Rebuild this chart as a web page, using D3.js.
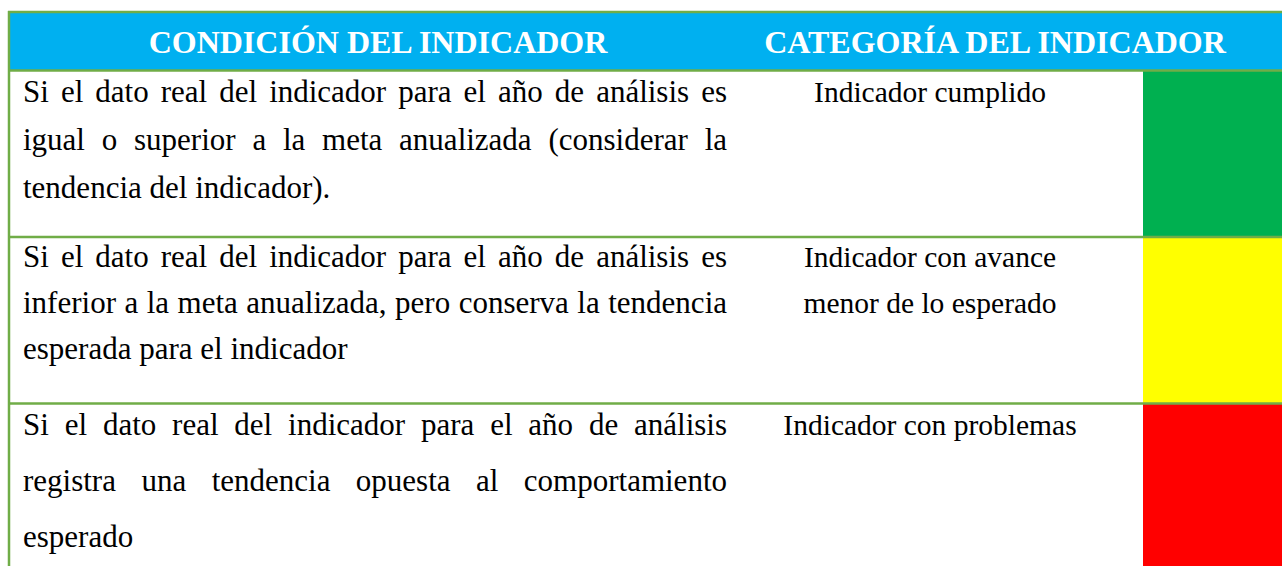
<!DOCTYPE html>
<html>
<head>
<meta charset="utf-8">
<script src="https://cdn.jsdelivr.net/npm/d3@7"></script>
<style>
  html, body { margin: 0; padding: 0; background: #ffffff; }
  svg { display: block; }
</style>
</head>
<body>
<script>
// ---- data ----
const headers = ["CONDICIÓN DEL INDICADOR", "CATEGORÍA DEL INDICADOR"];
const conditionLines = [
  ["Si el dato real del indicador para el año de análisis es",
   "igual o superior a la meta anualizada (considerar la",
   "tendencia del indicador)."],
  ["Si el dato real del indicador para el año de análisis es",
   "inferior a la meta anualizada, pero conserva la tendencia",
   "esperada para el indicador"],
  ["Si el dato real del indicador para el año de análisis",
   "registra una tendencia opuesta al comportamiento",
   "esperado"]
];
const categoryLines = [
  ["Indicador cumplido"],
  ["Indicador con avance", "menor de lo esperado"],
  ["Indicador con problemas"]
];
const categoryColors = ["#00B050", "#FFFF00", "#FF0000"];

// ---- layout ----
const W = 1282, H = 566;
const border = "#70AD47";
const headerFill = "#00B0F0";
const tableLeft = 9, tableTop = 12, headerBottom = 70.5;
const textLeft = 23, textRight = 727;
const catCenter = 930;
const swatchLeft = 1143;
const bodyFont = 31, catFont = 29.5, headFont = 32;
const rowPitch = [48, 46, 56];
const rowFirst = [31, 30, 31];

const svg = d3.select("body").append("svg").attr("width", W).attr("height", H);

const rows = d3.range(conditionLines.length);
const y = d3.scaleBand().domain(rows).range([headerBottom, headerBottom + 3 * 166.5]);
const headX = d3.scaleOrdinal().domain(headers).range([378, 995]);
const fontFam = "'Liberation Serif', 'Times New Roman', serif";
const lineY = (r, i) => y(r) + rowFirst[r] + i * rowPitch[r];

// header
svg.append("rect").attr("x", tableLeft).attr("y", tableTop)
  .attr("width", W - tableLeft).attr("height", headerBottom - tableTop).attr("fill", headerFill);
svg.selectAll("text.head").data(headers).join("text")
  .attr("class", "head")
  .attr("x", d => headX(d)).attr("y", 53)
  .attr("text-anchor", "middle")
  .attr("font-family", fontFam)
  .attr("font-weight", "bold").attr("font-size", headFont)
  .attr("fill", "#ffffff").text(d => d);

// color swatches
svg.selectAll("rect.sw").data(rows).join("rect")
  .attr("class", "sw")
  .attr("x", swatchLeft).attr("y", d => y(d))
  .attr("width", W - swatchLeft).attr("height", y.bandwidth())
  .attr("fill", d => categoryColors[d]);

// condition text (justified)
const meas = svg.append("text").attr("font-family", fontFam).attr("font-size", bodyFont).attr("visibility", "hidden");
function wWidth(s) { meas.text(s); return meas.node().getComputedTextLength(); }

rows.forEach(r => {
  const lines = conditionLines[r];
  lines.forEach((line, i) => {
    const by = lineY(r, i);
    const words = line.split(" ");
    const justify = i < lines.length - 1 && words.length > 1;
    let positions;
    if (justify) {
      const widths = words.map(wWidth);
      const gap = (textRight - textLeft - d3.sum(widths)) / (words.length - 1);
      let x = textLeft;
      positions = words.map((w, k) => { const p = x; x += widths[k] + gap; return p; });
    } else {
      const spaceW = wWidth("a a") - wWidth("aa");
      let x = textLeft;
      positions = words.map(w => { const p = x; x += wWidth(w) + spaceW; return p; });
    }
    svg.append("g").selectAll("text").data(words).join("text")
      .attr("x", (d, k) => positions[k]).attr("y", by)
      .attr("font-family", fontFam).attr("font-size", bodyFont)
      .attr("fill", "#000000").text(d => d);
  });
});
meas.remove();

// category text
rows.forEach(r => {
  svg.append("g").selectAll("text").data(categoryLines[r]).join("text")
    .attr("x", catCenter).attr("y", (d, i) => lineY(r, i))
    .attr("text-anchor", "middle")
    .attr("font-family", fontFam).attr("font-size", catFont)
    .attr("fill", "#000000").text(d => d);
});

// borders
const hLines = [tableTop, headerBottom, ...rows.slice(1).map(r => y(r))];
svg.selectAll("line.h").data(hLines).join("line")
  .attr("class", "h")
  .attr("x1", tableLeft - 1).attr("x2", W).attr("y1", d => d).attr("y2", d => d)
  .attr("stroke", border).attr("stroke-width", 2.5);
svg.append("line").attr("x1", tableLeft).attr("x2", tableLeft)
  .attr("y1", tableTop - 1).attr("y2", H)
  .attr("stroke", border).attr("stroke-width", 2.5);
</script>
</body>
</html>
